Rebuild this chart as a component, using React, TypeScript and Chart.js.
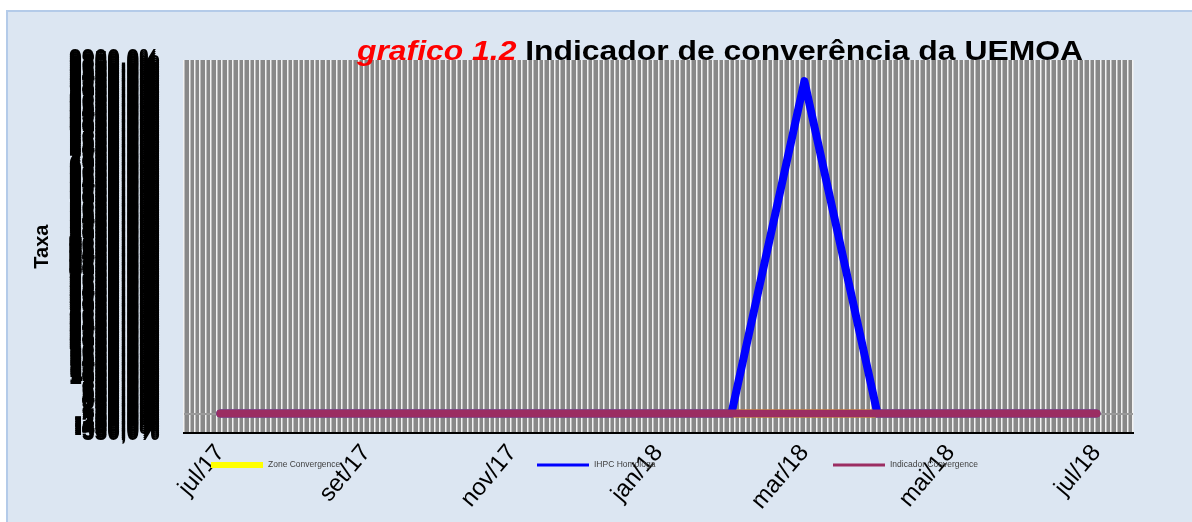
import React, { useEffect, useRef } from "react";
import { Chart, registerables } from "chart.js";

Chart.register(...registerables);

// ---- data ----
const months = ["jul/17", "ago/17", "set/17", "out/17", "nov/17", "dez/17", "jan/18", "fev/18", "mar/18", "abr/18", "mai/18", "jun/18", "jul/18"];
const zoneConvergence = [0, 0, 0, 0, 0, 0, 0, 0, 0, 0, 0, 0, 0];
const ihpcHomologa = [0, 0, 0, 0, 0, 0, 0, 0, 9310, 0, 0, 0, 0];
const indicadorConvergence = [0, 0, 0, 0, 0, 0, 0, 0, 0, 0, 0, 0, 0];
const seriesNames = ["Zone Convergence", "IHPC Homologa", "Indicador Convergence"];
const seriesColors = ["#ffff00", "#0000ff", "#9b2d62"];
const yMin = -550;
const yMax = 9900;
const yStep = 50;
const gridCount = 174;
const titleRed = "grafico 1.2";
const titleBlack = " Indicador de converência da UEMOA";
const yTitle = "Taxa";

const FONT = "'Liberation Sans', Arial, sans-serif";

const plotBg = {
  id: "plotBg",
  beforeDraw(chart: any) {
    const { ctx, chartArea: a } = chart;
    ctx.save();
    ctx.fillStyle = "#888888";
    ctx.fillRect(a.left, a.top, a.right - a.left, a.bottom - a.top);
    ctx.restore();
  },
};

const overlay = {
  id: "overlay",
  afterDraw(chart: any) {
    const { ctx } = chart;
    ctx.save();
    // title (stretched horizontally like the original)
    const fs = 28;
    ctx.font = `italic bold ${fs}px ${FONT}`;
    const w1 = ctx.measureText(titleRed).width;
    ctx.font = `bold ${fs}px ${FONT}`;
    const w2 = ctx.measureText(titleBlack).width;
    const targetW = 726;
    const sx = targetW / (w1 + w2);
    const cx = 720;
    const x0 = cx - targetW / 2;
    const by = 60;
    ctx.save();
    ctx.translate(x0, by);
    ctx.scale(sx, 1);
    ctx.textBaseline = "alphabetic";
    ctx.textAlign = "left";
    ctx.font = `italic bold ${fs}px ${FONT}`;
    ctx.fillStyle = "#ff0000";
    ctx.fillText(titleRed, 0, 0);
    ctx.font = `bold ${fs}px ${FONT}`;
    ctx.fillStyle = "#000000";
    ctx.fillText(titleBlack, w1, 0);
    ctx.restore();

    // legend (drawn over the axis labels, as in the original)
    const legendX = [211, 537, 833];
    const legendW = [6, 3, 3];
    const ly = 465;
    ctx.font = `8.5px ${FONT}`;
    ctx.textBaseline = "middle";
    chart.data.datasets.forEach((ds: any, i: number) => {
      const x = legendX[i];
      ctx.strokeStyle = ds.borderColor;
      ctx.lineWidth = legendW[i];
      ctx.lineCap = "butt";
      ctx.beginPath();
      ctx.moveTo(x, ly);
      ctx.lineTo(x + 52, ly);
      ctx.stroke();
      ctx.fillStyle = "#404040";
      ctx.fillText(ds.label, x + 57, ly);
    });
    ctx.restore();
  },
};

export default function App() {
  const ref = useRef<HTMLCanvasElement | null>(null);

  useEffect(() => {
    if (!ref.current) return;
    const mk = (i: number, data: number[], order: number) => ({
      label: seriesNames[i],
      data,
      borderColor: seriesColors[i],
      backgroundColor: seriesColors[i],
      borderWidth: 8,
      pointRadius: 0,
      borderCapStyle: "round",
      borderJoinStyle: "round",
      tension: 0,
      fill: false,
      order,
    });
    const chart = new Chart(ref.current, {
      type: "line",
      data: {
        labels: months,
        datasets: [
          mk(0, zoneConvergence, 3),
          mk(1, ihpcHomologa, 2),
          mk(2, indicadorConvergence, 1),
        ] as any,
      },
      options: {
        animation: false,
        responsive: true,
        maintainAspectRatio: false,
        layout: { padding: { left: 16, right: 59, top: 60, bottom: 1 } },
        plugins: {
          legend: { display: false },
          tooltip: { enabled: false },
          title: { display: false },
        },
        scales: {
          x: {
            type: "category",
            offset: true,
            grid: { display: false, drawTicks: false },
            border: { display: true, color: "#000000", width: 2 },
            ticks: {
              autoSkip: false,
              maxRotation: 50,
              minRotation: 50,
              padding: 6,
              color: "#000000",
              font: { family: FONT, size: 24 },
              callback: (_v: any, i: number) => (i % 2 === 0 ? months[i] : ""),
            },
          },
          xg: {
            type: "linear",
            position: "bottom",
            min: 0,
            max: gridCount,
            grid: { color: "#f2f2f2", lineWidth: 1.5, drawTicks: false },
            border: { display: false },
            ticks: { display: false, stepSize: 1, maxTicksLimit: 1000 },
          },
          y: {
            type: "linear",
            min: yMin,
            max: yMax,
            border: { display: false },
            grid: {
              drawTicks: false,
              lineWidth: 2,
              color: (c: any) => (c.tick && c.tick.value === 0 ? "#9a9a9a" : "rgba(0,0,0,0)"),
            },
            title: {
              display: true,
              text: yTitle,
              color: "#000000",
              font: { family: FONT, size: 20, weight: "bold" },
              padding: { top: 14, bottom: -9 },
            },
            ticks: {
              stepSize: yStep,
              maxTicksLimit: 1000,
              autoSkip: false,
              padding: 24,
              color: "#000000",
              font: { family: FONT, size: 23, weight: "bold" },
              callback: (v: any) => `${Number(v).toFixed(1).replace(".", ",")}%`,
            },
          },
        } as any,
      },
      plugins: [plotBg, overlay],
    });
    return () => chart.destroy();
  }, []);

  return (
    <div style={{ position: "absolute", left: 0, top: 0, width: 1192, height: 522, background: "#ffffff", overflow: "hidden" }}>
      <div style={{ position: "absolute", left: 6, top: 10, width: 1200, height: 530, background: "#dce6f2", borderLeft: "2px solid #b4cbe9", borderTop: "2px solid #b4cbe9" }} />
      <div style={{ position: "absolute", left: 0, top: 0, width: 1192, height: 522 }}>
        <canvas ref={ref} />
      </div>
    </div>
  );
}
